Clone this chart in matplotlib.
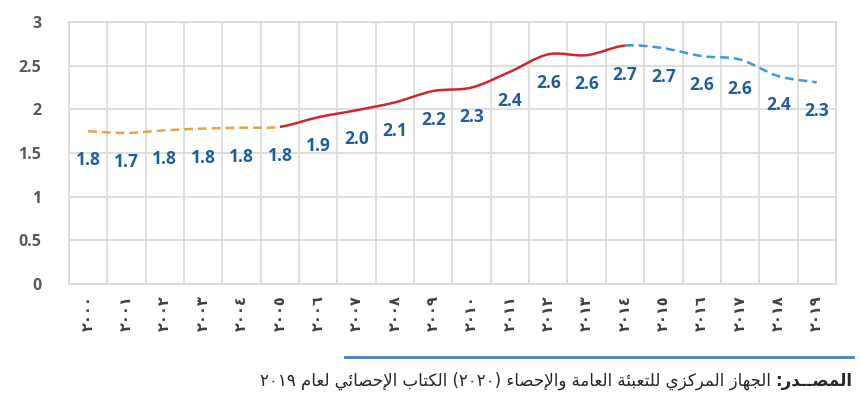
import re
import matplotlib
matplotlib.use('Agg')
import matplotlib.pyplot as plt
from matplotlib.path import Path
from matplotlib.patches import PathPatch
import numpy as np

# years in Eastern Arabic digits, as on the original axis
years = ['٢٠٠٠', '٢٠٠١', '٢٠٠٢', '٢٠٠٣', '٢٠٠٤', '٢٠٠٥', '٢٠٠٦', '٢٠٠٧', '٢٠٠٨', '٢٠٠٩',
         '٢٠١٠', '٢٠١١', '٢٠١٢', '٢٠١٣', '٢٠١٤', '٢٠١٥', '٢٠١٦', '٢٠١٧', '٢٠١٨', '٢٠١٩']
values = [1.75, 1.73, 1.76, 1.78, 1.79, 1.80, 1.91, 1.99, 2.08, 2.21,
          2.25, 2.43, 2.63, 2.62, 2.73, 2.70, 2.61, 2.57, 2.38, 2.31]
value_labels = ['1.8', '1.7', '1.8', '1.8', '1.8', '1.8', '1.9', '2.0', '2.1', '2.2',
                '2.3', '2.4', '2.6', '2.6', '2.7', '2.7', '2.6', '2.6', '2.4', '2.3']
# index ranges of the three line pieces
segments = [(0, 5), (5, 14), (14, 19)]
source_bold = 'المصــدر:'
source_text = 'الجهاز المركزي للتعبئة العامة والإحصاء (٢٠٢٠) الكتاب الإحصائي لعام ٢٠١٩'

# --- tiny arabic shaper (matplotlib has no text shaping) ---
FORMS = {
    'ء': ('\ufe80', None, None, None),
    'إ': ('\ufe87', '\ufe88', None, None),
    'أ': ('\ufe83', '\ufe84', None, None),
    'ا': ('\ufe8d', '\ufe8e', None, None),
    'ب': ('\ufe8f', '\ufe90', '\ufe91', '\ufe92'),
    'ة': ('\ufe93', '\ufe94', None, None),
    'ت': ('\ufe95', '\ufe96', '\ufe97', '\ufe98'),
    'ج': ('\ufe9d', '\ufe9e', '\ufe9f', '\ufea0'),
    'ح': ('\ufea1', '\ufea2', '\ufea3', '\ufea4'),
    'د': ('\ufea9', '\ufeaa', None, None),
    'ر': ('\ufead', '\ufeae', None, None),
    'ز': ('\ufeaf', '\ufeb0', None, None),
    'ص': ('\ufeb9', '\ufeba', '\ufebb', '\ufebc'),
    'ع': ('\ufec9', '\ufeca', '\ufecb', '\ufecc'),
    'ك': ('\ufed9', '\ufeda', '\ufedb', '\ufedc'),
    'ل': ('\ufedd', '\ufede', '\ufedf', '\ufee0'),
    'م': ('\ufee1', '\ufee2', '\ufee3', '\ufee4'),
    'ن': ('\ufee5', '\ufee6', '\ufee7', '\ufee8'),
    'ه': ('\ufee9', '\ufeea', '\ufeeb', '\ufeec'),
    'و': ('\ufeed', '\ufeee', None, None),
    'ي': ('\ufef1', '\ufef2', '\ufef3', '\ufef4'),
    'ئ': ('\ufe89', '\ufe8a', '\ufe8b', '\ufe8c'),
    'ـ': ('ـ', 'ـ', 'ـ', 'ـ'),
}
LAM_ALEF = {'ا': ('\ufefb', '\ufefc'), 'إ': ('\ufef9', '\ufefa'), 'أ': ('\ufef7', '\ufef8')}


def dual(ch):
    return ch in FORMS and FORMS[ch][2] is not None


def joins(ch):
    return ch in FORMS and FORMS[ch][1] is not None


def rtl(text):
    out = []
    i = 0
    while i < len(text):
        c = text[i]
        p = i > 0 and dual(text[i - 1])
        if c == 'ل' and i + 1 < len(text) and text[i + 1] in LAM_ALEF:
            iso, fin = LAM_ALEF[text[i + 1]]
            out.append(fin if p else iso)
            i += 2
            continue
        if c not in FORMS:
            out.append(c)
            i += 1
            continue
        n = dual(c) and i + 1 < len(text) and joins(text[i + 1])
        iso, fin, ini, med = FORMS[c]
        if p and n:
            out.append(med)
        elif p:
            out.append(fin or iso)
        elif n:
            out.append(ini)
        else:
            out.append(iso)
        i += 1
    s = ''.join(out)[::-1].translate(str.maketrans('()', ')('))
    return re.sub(r'[\u0660-\u0669]+', lambda m: m.group(0)[::-1], s)


def smooth_path(xs, ys, i0, i1):
    # bezier pieces through the points, like a spreadsheet "smoothed line"
    verts = [(xs[i0], ys[i0])]
    codes = [Path.MOVETO]
    for i in range(i0, i1):
        a = max(i - 1, 0)
        d = min(i + 2, len(xs) - 1)
        c1 = (xs[i] + (xs[i + 1] - xs[a]) / 6, ys[i] + (ys[i + 1] - ys[a]) / 6)
        c2 = (xs[i + 1] - (xs[d] - xs[i]) / 6, ys[i + 1] - (ys[d] - ys[i]) / 6)
        verts += [c1, c2, (xs[i + 1], ys[i + 1])]
        codes += [Path.CURVE4] * 3
    return Path(verts, codes)


plt.rcParams['font.family'] = ['Open Sans', 'DejaVu Sans']

fig = plt.figure(figsize=(8.6, 4.13), dpi=100)
ax = fig.add_axes([0.0802, 0.3123, 0.8918, 0.6344])

x = np.arange(len(years))
ax.set_xlim(-0.5, len(years) - 0.5)
ax.set_ylim(0, 3)

styles = [dict(color='#E9A43C', linestyle=(0, (3.5, 2))),
          dict(color='#D3262B', linestyle='-'),
          dict(color='#3A9BDA', linestyle=(0, (3.5, 2)))]
for (i0, i1), st in zip(segments, styles):
    ax.add_patch(PathPatch(smooth_path(x, values, i0, i1), facecolor='none',
                           edgecolor=st['color'], linestyle=st['linestyle'],
                           linewidth=1.8, capstyle='butt', zorder=3))

for xi, v, lab in zip(x, values, value_labels):
    ax.annotate(lab, (xi, v), xytext=(0, -29), textcoords='offset pixels',
                ha='center', va='center', fontsize=12.5, fontweight='bold',
                color='#1F5E9E', zorder=4)

ax.set_yticks([0, 0.5, 1, 1.5, 2, 2.5, 3])
ax.set_yticklabels(['0', '0.5', '1', '1.5', '2', '2.5', '3'])
ax.set_xticks(x)
ax.set_xticklabels(years, rotation=90, fontsize=10.5, fontweight='bold',
                   color='#404040', family='DejaVu Sans')
ax.set_xticks(np.arange(-0.5, len(years), 1), minor=True)
ax.tick_params(axis='y', length=0, pad=20, labelsize=11.5, labelcolor='#595959')
for t in ax.get_yticklabels():
    t.set_fontweight('bold')
ax.tick_params(axis='x', which='both', length=0, pad=8)
ax.grid(axis='y', which='major', color='#D9D9D9', linewidth=1.2)
ax.grid(axis='x', which='minor', color='#D9D9D9', linewidth=1.2)
for sp in ax.spines.values():
    sp.set_color('#D9D9D9')
    sp.set_linewidth(1.2)
ax.set_axisbelow(True)

# source line and caption under the chart
fig.add_artist(plt.Line2D([345 / 860, 853 / 860], [1 - 357 / 413, 1 - 357 / 413],
                          color='#4A7CC4', linewidth=2))
bold = fig.text(852 / 860, 1 - 381 / 413, rtl(source_bold), ha='right', va='center',
                fontsize=12, fontweight='bold', color='#262626', family='DejaVu Sans')
ax.annotate(rtl(source_text), xy=(0, 0.5), xycoords=bold, xytext=(-4, 0),
            textcoords='offset pixels', ha='right', va='center', fontsize=12,
            color='#262626', family='DejaVu Sans', annotation_clip=False)

fig.savefig('out.png', dpi=100)
